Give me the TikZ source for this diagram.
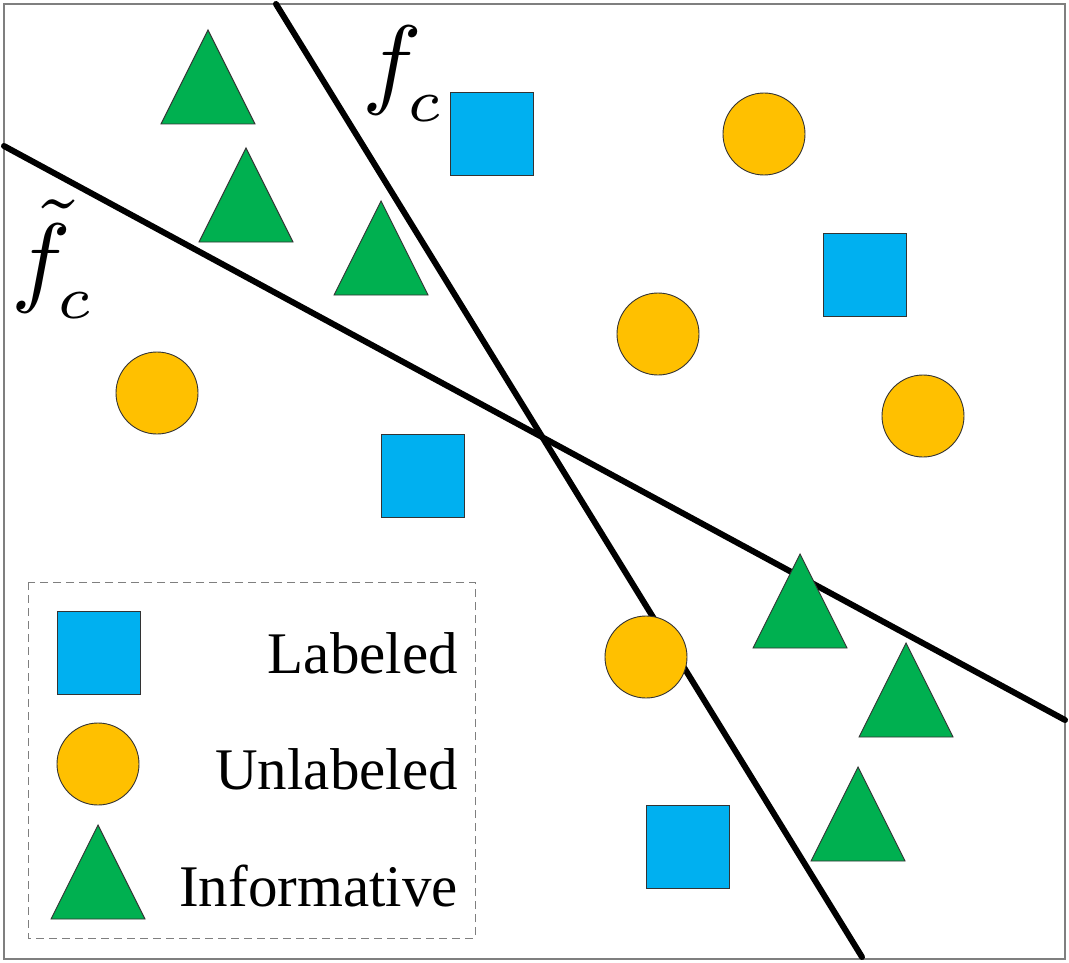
\documentclass[tikz,border=0pt]{standalone}
\usepackage{fontspec}
\setmainfont{Liberation Serif}
\newfontfamily\timesf{Liberation Serif}
\definecolor{sqblue}{HTML}{00B0F0}
\definecolor{ciryel}{HTML}{FFC000}
\definecolor{trigreen}{HTML}{00B050}
\definecolor{framegray}{HTML}{7F7F7F}
\tikzset{
  sq/.style={draw=black!80, line width=0.9pt, fill=sqblue, minimum size=83pt, inner sep=0pt, outer sep=0pt},
  cir/.style={circle, draw=black!80, line width=0.9pt, fill=ciryel, minimum size=82pt, inner sep=0pt, outer sep=0pt},
  tri/.style={draw=black!80, line width=0.9pt, fill=trigreen, line join=miter},
  sep/.style={line width=6pt, black, line cap=round},
  legtext/.style={anchor=base east, inner sep=0pt, font=\timesf\fontsize{59}{70}\selectfont},
  mathlab/.style={anchor=base west, inner sep=0pt, scale=10, font=\fontsize{10}{12}\selectfont}
}
\newcommand\mytri[3]{\filldraw[tri, shift={(#1,#2)}] (-47,0) -- (0,-94) -- (47,0) -- cycle;}
\newcommand\subc{\kern-1.4pt\lower2.5pt\hbox{\fontsize{6}{6}\selectfont$c$}}
\begin{document}
\begin{tikzpicture}[x=1pt,y=-1pt]
\useasboundingbox (0,0) rectangle (1069,963);
\fill[white] (0,0) rectangle (1069,963);
% frame
\draw[framegray, line width=1.5pt] (4,4) rectangle (1065,959);
% separating lines
\coordinate (fa) at (276,4);
\coordinate (fb) at (862,957);
\coordinate (ga) at (4,146);
\coordinate (gb) at (1065,720);
\draw[sep] (fa) -- (fb);
\draw[sep] (ga) -- (gb);
% labels
\node[mathlab] (lf) at (360,96) {$f$\subc};
\node[mathlab] (lg) at (10,293) {$\tilde{f}$\subc};
% triangles
\mytri{208}{124}{}
\mytri{246}{242}{}
\mytri{381}{295}{}
\mytri{800}{648}{}
\mytri{906}{737}{}
\mytri{858}{861}{}
% squares
\node[sq] (s1) at (491.5,133.5) {};
\node[sq] (s2) at (864.5,275) {};
\node[sq] (s3) at (422.5,475.5) {};
\node[sq] (s4) at (687.5,847) {};
% circles
\node[cir] (c1) at (764,134) {};
\node[cir] (c2) at (658,334) {};
\node[cir] (c3) at (923,416) {};
\node[cir] (c4) at (157,393) {};
\node[cir] (c5) at (646,657) {};
% legend
\draw[framegray, line width=1pt, dash pattern=on 8pt off 5pt] (28,582) rectangle (475,938);
\node[sq] (ls) at (98.5,652.5) {};
\node[cir] (lc) at (98,764) {};
\mytri{98}{919}{}
\node[legtext] (t1) at (458,673) {Labeled};
\node[legtext] (t2) at (458,789) {Unlabeled};
\node[legtext] (t3) at (458,906) {Informative};
\end{tikzpicture}
\end{document}
